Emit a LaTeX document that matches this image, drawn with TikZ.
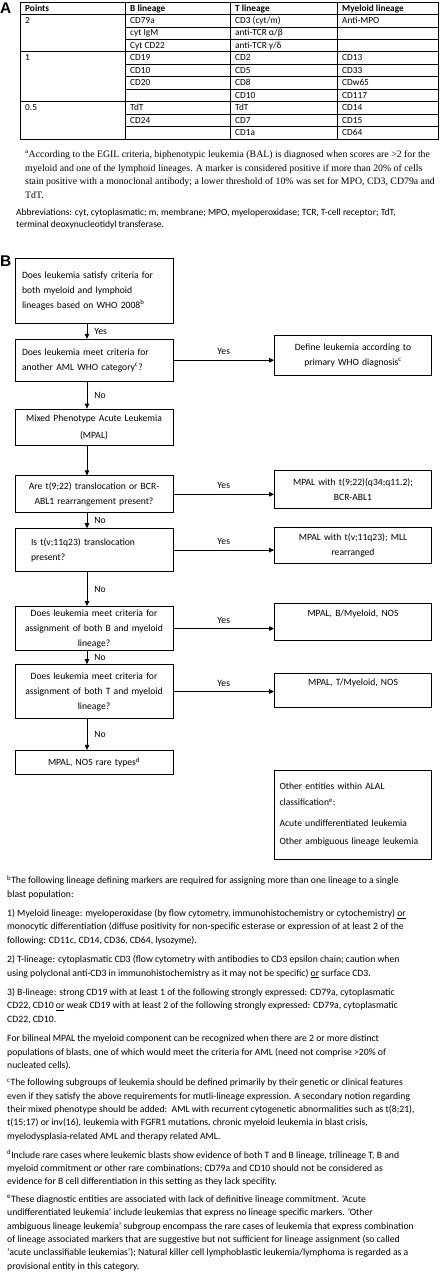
\documentclass[tikz,border=0pt]{standalone}
\usepackage{fontspec}
\setmainfont{Carlito}
\newfontfamily\serifnote{Liberation Serif}
\newfontfamily\panelfont{Liberation Sans}
\usetikzlibrary{arrows.meta, positioning}

\begin{document}
\begin{tikzpicture}[
    x=1pt, y=-1pt,
    node distance=15pt,
    panel/.style={anchor=base west, inner sep=0pt, font=\panelfont\bfseries\fontsize{15.5}{16}\selectfont},
    cell/.style={anchor=base west, inner sep=0pt, font=\fontsize{9.3}{10}\selectfont},
    head/.style={cell, font=\fontsize{9.3}{10}\selectfont\bfseries},
    grid/.style={line width=0.7pt},
    qbox/.style={
        rectangle, draw=black, line width=0.8pt,
        minimum width=158pt, text width=144pt, inner xsep=7pt, inner ysep=3pt,
        align=left, font=\fontsize{9.6}{15}\selectfont
    },
    cbox/.style={qbox, align=center},
    rbox/.style={cbox, minimum width=157pt, text width=143pt},
    ans/.style={font=\fontsize{9.6}{11}\selectfont, inner sep=0pt},
    arrow/.style={-{Triangle[length=5pt,width=4.5pt]}, line width=0.8pt},
    note/.style={anchor=north west, inner sep=0pt, align=left,
        font=\fontsize{9.7}{13.4}\selectfont,
        execute at begin node=\strut, execute at end node=\strut}
]
\useasboundingbox (0,0) rectangle (442,1280);

% Panel A: EGIL scoring table
\node[panel] (pa) at (0,13.5) {A};
\draw[grid, line width=0.9pt] (20,2) rectangle (438,139);
\foreach \x in {125,230,337} \draw[grid] (\x,2) -- (\x,139);
\foreach \k in {1,4,8} \draw[grid] (20,2+12.45*\k) -- (438,2+12.45*\k);
\foreach \k in {2,3,5,6,7,9,10} \draw[grid] (125,2+12.45*\k) -- (438,2+12.45*\k);

\foreach \x/\t [count=\i] in {25/Points, 130/B lineage, 235/T lineage, 342/Myeloid lineage}
    \node[head] (h-\i) at (\x,11) {\t};
\foreach \r/\t in {1/2, 4/1, 8/0.5}
    \node[cell] (p-\r) at (25,11+12.45*\r) {\t};
\foreach \r/\t in {1/CD79a, 2/cyt IgM, 3/Cyt CD22, 4/CD19, 5/CD10, 6/CD20, 8/TdT, 9/CD24}
    \node[cell] (b-\r) at (130,11+12.45*\r) {\t};
\foreach \r/\t in {1/{CD3 (cyt/m)}, 2/{anti-TCR α/β}, 3/{anti-TCR γ/δ}, 4/CD2, 5/CD5, 6/CD8, 7/CD10, 8/TdT, 9/CD7, 10/CD1a}
    \node[cell] (t-\r) at (235,11+12.45*\r) {\t};
\foreach \r/\t in {1/Anti-MPO, 4/CD13, 5/CD33, 6/CDw65, 7/CD117, 8/CD14, 9/CD15, 10/CD64}
    \node[cell] (m-\r) at (342,11+12.45*\r) {\t};

% Notes under the table
\node[note, font=\serifnote\fontsize{9.8}{13.7}\selectfont] (fna) at (25,150.4) {\textsuperscript{a}According to the EGIL criteria, biphenotypic leukemia (BAL) is diagnosed when scores are >2 for the\\myeloid and one of the lymphoid lineages. A marker is considered positive if more than 20\% of cells\\stain positive with a monoclonal antibody; a lower threshold of 10\% was set for MPO, CD3, CD79a and\\TdT.};
\node[note, font=\fontsize{9.5}{12}\selectfont] (abbr) at (16,208.6) {Abbreviations: cyt, cytoplasmatic; m, membrane; MPO, myeloperoxidase; TCR, T-cell receptor; TdT,\\terminal deoxynucleotidyl transferase.};

% Panel B: diagnostic flow
\node[panel] (pb) at (0,266) {B};

% Left column
\node[qbox, minimum height=65pt, anchor=north] (who) at (94,258) {Does leukemia satisfy criteria for\\both myeloid and lymphoid\\lineages based on WHO 2008\textsuperscript{b}};
\node[qbox, minimum height=42pt, below=of who] (aml) {Does leukemia meet criteria for\\another AML WHO category\textsuperscript{c}?};
\node[cbox, minimum height=36pt, below=27pt of aml] (mpal) {Mixed Phenotype Acute Leukemia\\[2pt](MPAL)};
\node[cbox, minimum height=37pt, below=30pt of mpal] (bcr) {Are t(9;22) translocation or BCR-\\ABL1 rearrangement present?};
\node[qbox, text width=126pt, inner xsep=16pt, minimum height=43pt, below=of bcr] (mll) {Is t(v;11q23) translocation\\present?};
\node[cbox, minimum height=43pt, below=34pt of mll] (bmy) {Does leukemia meet criteria for\\assignment of both B and myeloid\\lineage?};
\node[cbox, minimum height=54pt, below=13pt of bmy] (tmy) {Does leukemia meet criteria for\\assignment of both T and myeloid\\lineage?};
\node[cbox, minimum height=24pt, below=31pt of tmy] (nos) {MPAL, NOS rare types\textsuperscript{d}};

% Right column
\node[rbox, minimum height=40pt, anchor=north] (primary) at (353,335) {Define leukemia according to\\primary WHO diagnosis\textsuperscript{c}};
\node[rbox, minimum height=38pt, anchor=north] (bcrabl) at (353,470) {MPAL with t(9;22)(q34;q11.2);\\BCR-ABL1};
\node[rbox, minimum height=36pt, anchor=north] (mllr) at (353,527) {MPAL with t(v;11q23); MLL\\rearranged};
\node[rbox, text height=10pt, text depth=21pt, anchor=north] (bnos) at (353,603) {MPAL, B/Myeloid, NOS};
\node[rbox, text height=9pt, text depth=19pt, anchor=north] (tnos) at (353,673) {MPAL, T/Myeloid, NOS};
\node[rbox, align=left, text width=147pt, inner xsep=5pt, minimum height=89pt, font=\fontsize{9.6}{16}\selectfont, below=62pt of tnos] (alal) {Other entities within ALAL\\classification\textsuperscript{e}:\\[5pt]Acute undifferentiated leukemia\\[2pt]Other ambiguous lineage leukemia};

% Arrows
\draw[arrow] ([xshift=-7pt]who.south) -- node[ans, right=7pt] {Yes} ([xshift=-7pt]aml.north);
\draw[arrow] ([xshift=-7pt]aml.south) -- node[ans, right=7pt] {No} ([xshift=-7pt]mpal.north);
\draw[arrow] ([xshift=-7pt]mpal.south) -- ([xshift=-7pt]bcr.north);
\draw[arrow] ([xshift=-7pt]bcr.south) -- node[ans, right=7pt] {No} ([xshift=-7pt]mll.north);
\draw[arrow] ([xshift=-7pt]mll.south) -- node[ans, right=7pt] {No} ([xshift=-7pt]bmy.north);
\draw[arrow] ([xshift=-7pt]bmy.south) -- node[ans, right=7pt] {No} ([xshift=-7pt]tmy.north);
\draw[arrow] ([xshift=-7pt]tmy.south) -- node[ans, right=7pt] {No} ([xshift=-7pt]nos.north);
\draw[arrow] (aml.east) -- node[ans, above=5pt] {Yes} (aml.east -| primary.west);
\draw[arrow] (bcr.east) -- node[ans, above=5pt] {Yes} (bcr.east -| bcrabl.west);
\draw[arrow] (mll.east) -- node[ans, above=5pt] {Yes} (mll.east -| mllr.west);
\draw[arrow] (bmy.east) -- node[ans, above=5pt] {Yes} (bmy.east -| bnos.west);
\draw[arrow] (tmy.east) -- node[ans, above=5pt] {Yes} (tmy.east -| tnos.west);

% Footnotes of panel B
\node[note] (fnb) at (7,875.1) {\textsuperscript{b}The following lineage defining markers are required for assigning more than one lineage to a single\\blast population:\\[6pt]1) Myeloid lineage: myeloperoxidase (by flow cytometry, immunohistochemistry or cytochemistry) \underline{or}\\monocytic differentiation (diffuse positivity for non-specific esterase or expression of at least 2 of the\\following: CD11c, CD14, CD36, CD64, lysozyme).\\[6pt]2) T-lineage: cytoplasmatic CD3 (flow cytometry with antibodies to CD3 epsilon chain; caution when\\using polyclonal anti-CD3 in immunohistochemistry as it may not be specific) \underline{or} surface CD3.\\[6pt]3) B-lineage: strong CD19 with at least 1 of the following strongly expressed: CD79a, cytoplasmatic\\CD22, CD10 \underline{or} weak CD19 with at least 2 of the following strongly expressed: CD79a, cytoplasmatic\\CD22, CD10.\\[6pt]For bilineal MPAL the myeloid component can be recognized when there are 2 or more distinct\\populations of blasts, one of which would meet the criteria for AML (need not comprise >20\% of\\nucleated cells).};
\node[note, below right=6pt and 0pt of fnb.south west] (fnc) {\textsuperscript{c}The following subgroups of leukemia should be defined primarily by their genetic or clinical features\\even if they satisfy the above requirements for mutli-lineage expression. A secondary notion regarding\\their mixed phenotype should be added:\ \ AML with recurrent cytogenetic abnormalities such as t(8;21),\\t(15;17) or inv(16), leukemia with FGFR1 mutations, chronic myeloid leukemia in blast crisis,\\myelodysplasia-related AML and therapy related AML.};
\node[note, below right=6pt and 0pt of fnc.south west] (fnd) {\textsuperscript{d}Include rare cases where leukemic blasts show evidence of both T and B lineage, trilineage T, B and\\myeloid commitment or other rare combinations; CD79a and CD10 should not be considered as\\evidence for B cell differentiation in this setting as they lack specifity.};
\node[note, below right=6pt and 0pt of fnd.south west] (fne) {\textsuperscript{e}These diagnostic entities are associated with lack of definitive lineage commitment. ’Acute\\undifferentiated leukemia’ include leukemias that express no lineage specific markers. ’Other\\ambiguous lineage leukemia’ subgroup encompass the rare cases of leukemia that express combination\\of lineage associated markers that are suggestive but not sufficient for lineage assignment (so called\\‘acute unclassifiable leukemias’); Natural killer cell lymphoblastic leukemia/lymphoma is regarded as a\\provisional entity in this category.};
\end{tikzpicture}
\end{document}
